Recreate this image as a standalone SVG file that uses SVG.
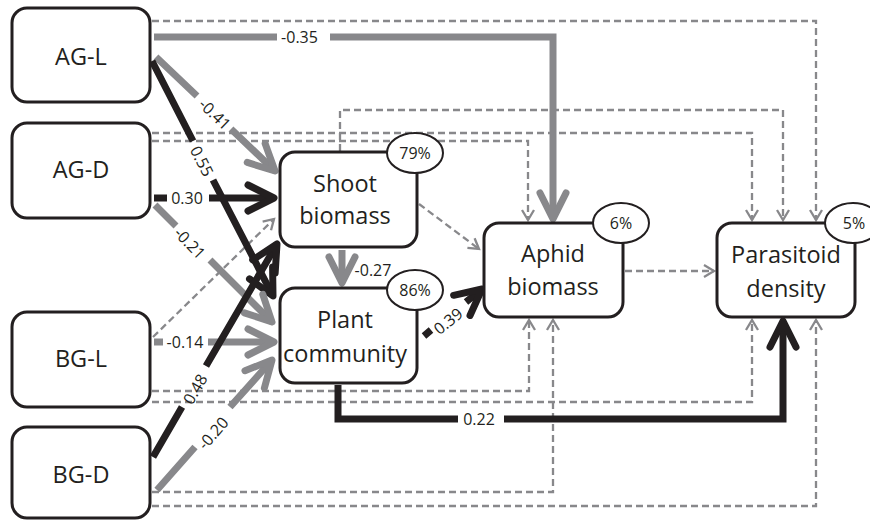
<svg xmlns="http://www.w3.org/2000/svg" width="870" height="520" viewBox="0 0 870 520">
<style>
.box{fill:#fff;stroke:#231f20;stroke-width:3}
.ell{fill:#fff;stroke:#231f20;stroke-width:2}
.nt{font-family:"Open Sans","DejaVu Sans",sans-serif;font-size:23.5px;fill:#231f20;text-anchor:middle}
.pt{font-family:"Open Sans","DejaVu Sans",sans-serif;font-size:16px;fill:#231f20;text-anchor:middle}
.lt{font-family:"Open Sans","DejaVu Sans",sans-serif;font-size:16px;fill:#231f20;text-anchor:middle;dominant-baseline:central}
.dash{fill:none;stroke:#88888b;stroke-width:2.3;stroke-dasharray:7,4;marker-end:url(#sm)}
.g{fill:none;stroke:#88888b;stroke-width:7;stroke-linejoin:miter;marker-end:url(#cg)}
.k{fill:none;stroke:#231f20;stroke-width:7;stroke-linejoin:miter;marker-end:url(#ck)}
</style>
<defs>
<marker id="sm" markerUnits="userSpaceOnUse" viewBox="-12 -8 14 16" markerWidth="14" markerHeight="16" refX="0" refY="0" orient="auto" overflow="visible">
<path d="M-10,-6 L0,0 L-10,6" fill="none" stroke="#88888b" stroke-width="2.3" stroke-dasharray="none"/>
</marker>
<marker id="cg" markerUnits="userSpaceOnUse" viewBox="-32 -18 36 36" markerWidth="36" markerHeight="36" refX="0" refY="0" orient="auto" overflow="visible">
<path d="M-26,-13 L0,0 L-26,13" fill="none" stroke="#88888b" stroke-width="7" stroke-linecap="round" stroke-linejoin="round"/>
</marker>
<marker id="ck" markerUnits="userSpaceOnUse" viewBox="-32 -18 36 36" markerWidth="36" markerHeight="36" refX="0" refY="0" orient="auto" overflow="visible">
<path d="M-26,-13 L0,0 L-26,13" fill="none" stroke="#231f20" stroke-width="7" stroke-linecap="round" stroke-linejoin="round"/>
</marker>
</defs>
<rect width="870" height="520" fill="#fff"/>
<g id="connectors">
<path class="dash" d="M152,21 L816,21 L816,220"/>
<path class="dash" d="M340,151 L340,110 L783,110 L783,220"/>
<path class="dash" d="M152,133 L752,133 L752,220"/>
<path class="dash" d="M152,141 L528,141 L528,220"/>
<path class="dash" d="M419,204 L479,249"/>
<path class="dash" d="M153,337 L274,219"/>
<path class="dash" d="M625,271 L714,271"/>
<path class="dash" d="M152,391 L529,391 L529,320"/>
<path class="dash" d="M152,402 L752,402 L752,320"/>
<path class="dash" d="M152,492 L553,492 L553,320"/>
<path class="dash" d="M152,506 L816,506 L816,320"/>

<path class="g" d="M154,37 L277,37 M330,37 L553,37 L553,219"/>
<text class="lt" x="299.5" y="37">-0.35</text>

<path class="g" d="M156,57 L197,96 M231,129 L275,171"/>
<text class="lt" x="215" y="114" transform="rotate(43.8 215 114)">-0.41</text>

<path class="k" d="M152,61 L193,141 M213,180 L273,296"/>
<text class="lt" x="202" y="161" transform="rotate(62.8 202 161)">0.55</text>

<path class="k" d="M154,198 L167,198 M209,198 L274,198"/>
<text class="lt" x="187" y="198">0.30</text>

<path class="g" d="M155,205 L176,226 M210,260 L272,322"/>
<text class="lt" x="190" y="243" transform="rotate(46 190 243)">-0.21</text>

<path class="g" d="M154,342 L163,342 M208,342 L274,342"/>
<text class="lt" x="185" y="342">-0.14</text>

<path class="k" d="M153,457 L182,407 M206,366 L277,244"/>
<text class="lt" x="195" y="389" transform="rotate(-59.8 195 389)">0.48</text>

<path class="g" d="M157,490 L195,447 M230,407 L272,360"/>
<text class="lt" x="213" y="433" transform="rotate(-48.5 213 433)">-0.20</text>

<path class="g" d="M342,250 L342,283"/>
<text class="lt" x="373" y="270">-0.27</text>

<path class="k" d="M424,336 L431,330 M466,302 L482,289"/>
<text class="lt" x="448" y="321" transform="rotate(-39 448 321)">0.39</text>

<path class="k" d="M338,385 L338,419 L458,419 M504,419 L783,419 L783,321"/>
<text class="lt" x="479" y="419">0.22</text>
</g>
<g id="ag-l"><rect class="box" x="12" y="8" width="138" height="94" rx="15"/><text class="nt" x="81" y="65">AG-L</text></g>
<g id="ag-d"><rect class="box" x="12" y="123" width="138" height="95" rx="15"/><text class="nt" x="81" y="178">AG-D</text></g>
<g id="bg-l"><rect class="box" x="12" y="312" width="138" height="95" rx="15"/><text class="nt" x="81" y="367">BG-L</text></g>
<g id="bg-d"><rect class="box" x="12" y="427" width="138" height="91" rx="15"/><text class="nt" x="81" y="483">BG-D</text></g>
<g id="shoot"><rect class="box" x="280" y="152" width="137" height="95" rx="15"/><text class="nt" x="345" y="192">Shoot</text><text class="nt" x="345" y="224">biomass</text>
<ellipse class="ell" cx="415" cy="153" rx="28" ry="20"/><text class="pt" x="415" y="159">79%</text></g>
<g id="plant"><rect class="box" x="280" y="288" width="137" height="95" rx="15"/><text class="nt" x="345" y="328">Plant</text><text class="nt" x="345" y="362">community</text>
<ellipse class="ell" cx="415" cy="290" rx="28" ry="20"/><text class="pt" x="415" y="296">86%</text></g>
<g id="aphid"><rect class="box" x="484" y="223" width="139" height="94" rx="15"/><text class="nt" x="553" y="262">Aphid</text><text class="nt" x="553" y="295">biomass</text>
<ellipse class="ell" cx="621" cy="223" rx="28" ry="20"/><text class="pt" x="621" y="229">6%</text></g>
<g id="parasitoid"><rect class="box" x="717" y="223" width="138" height="94" rx="15"/><text class="nt" x="786" y="263">Parasitoid</text><text class="nt" x="786" y="297">density</text>
<ellipse class="ell" cx="853" cy="223" rx="28" ry="20"/><text class="pt" x="854" y="229">5%</text></g>
</svg>
